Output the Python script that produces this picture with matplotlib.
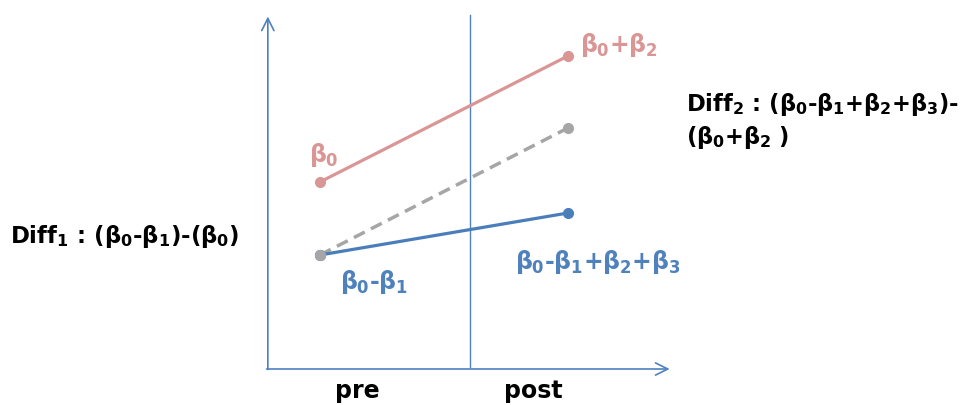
import matplotlib
matplotlib.use('Agg')
from matplotlib import pyplot as plt

plt.rcParams['mathtext.fontset'] = 'custom'
plt.rcParams['mathtext.rm'] = 'DejaVu Sans:bold'
plt.rcParams['mathtext.it'] = 'DejaVu Sans:bold'
plt.rcParams['mathtext.bf'] = 'DejaVu Sans:bold'
plt.rcParams['font.family'] = 'DejaVu Sans'

# pre = 0, post = 1
periods = [0, 1]
period_labels = ['pre', 'post']
treated_ref = [3.74, 6.26]       # beta0 -> beta0+beta2
control = [2.28, 3.12]           # beta0-beta1 -> beta0-beta1+beta2+beta3
counterfactual = [2.28, 4.82]    # dashed grey

red = '#d99694'
blue = '#4a7ebb'
grey = '#a6a6a6'
axis_col = '#4f81bd'

fig = plt.figure(figsize=(9.61, 4.06), dpi=100)
ax = fig.add_axes([0, 0, 1, 1])
ax.set_xlim(-1.29, 2.585)
ax.set_ylim(-0.72, 7.4)
ax.axis('off')

# axes with arrows
ax.annotate('', xy=(-0.21, 7.05), xytext=(-0.21, -0.01),
            arrowprops=dict(arrowstyle='->', color=axis_col, lw=1.2,
                            mutation_scale=22, shrinkA=0, shrinkB=0))
ax.annotate('', xy=(1.41, 0), xytext=(-0.215, 0),
            arrowprops=dict(arrowstyle='->', color=axis_col, lw=1.2,
                            mutation_scale=22, shrinkA=0, shrinkB=0))
ax.plot([0.605, 0.605], [0.04, 7.08], color=axis_col, lw=1.0)

ax.plot(periods, counterfactual, color=grey, lw=2.5, ls=(0, (3.5, 2.0)),
        marker='o', ms=7, zorder=3)
ax.plot(periods, treated_ref, color=red, lw=2.3, marker='o', ms=7, zorder=4)
ax.plot(periods, control, color=blue, lw=2.3, marker='o', ms=7, zorder=4)
ax.plot(periods[:1], counterfactual[:1], color=grey, marker='o', ms=7, lw=0, zorder=5)

kw = dict(fontsize=17, fontweight='bold', ha='center', va='center')
ax.text(0.016, 4.3, r'$\beta_0$', color=red, **kw)
ax.text(1.206, 6.5, r'$\beta_0$+$\beta_2$', color=red, **kw)
ax.text(0.22, 1.76, r'$\beta_0$-$\beta_1$', color='#4f81bd', **kw)
ax.text(1.12, 2.16, r'$\beta_0$-$\beta_1$+$\beta_2$+$\beta_3$', color='#4f81bd', **kw)

for x, lab in zip([0.149, 0.859], period_labels):
    ax.text(x, -0.57, lab, fontsize=17, fontweight='bold', ha='center', va='baseline')

fig.text(10 / 961, 1 - 237 / 406, r'Diff$_1$ : ($\beta_0$-$\beta_1$)-($\beta_0$)',
         fontsize=16.5, fontweight='bold', ha='left', va='center')
fig.text(686 / 961, 1 - 105 / 406, r'Diff$_2$ : ($\beta_0$-$\beta_1$+$\beta_2$+$\beta_3$)-',
         fontsize=16.3, fontweight='bold', ha='left', va='center')
fig.text(686 / 961, 1 - 138 / 406, r'($\beta_0$+$\beta_2$ )',
         fontsize=16.3, fontweight='bold', ha='left', va='center')

fig.savefig('out.png', dpi=100)
